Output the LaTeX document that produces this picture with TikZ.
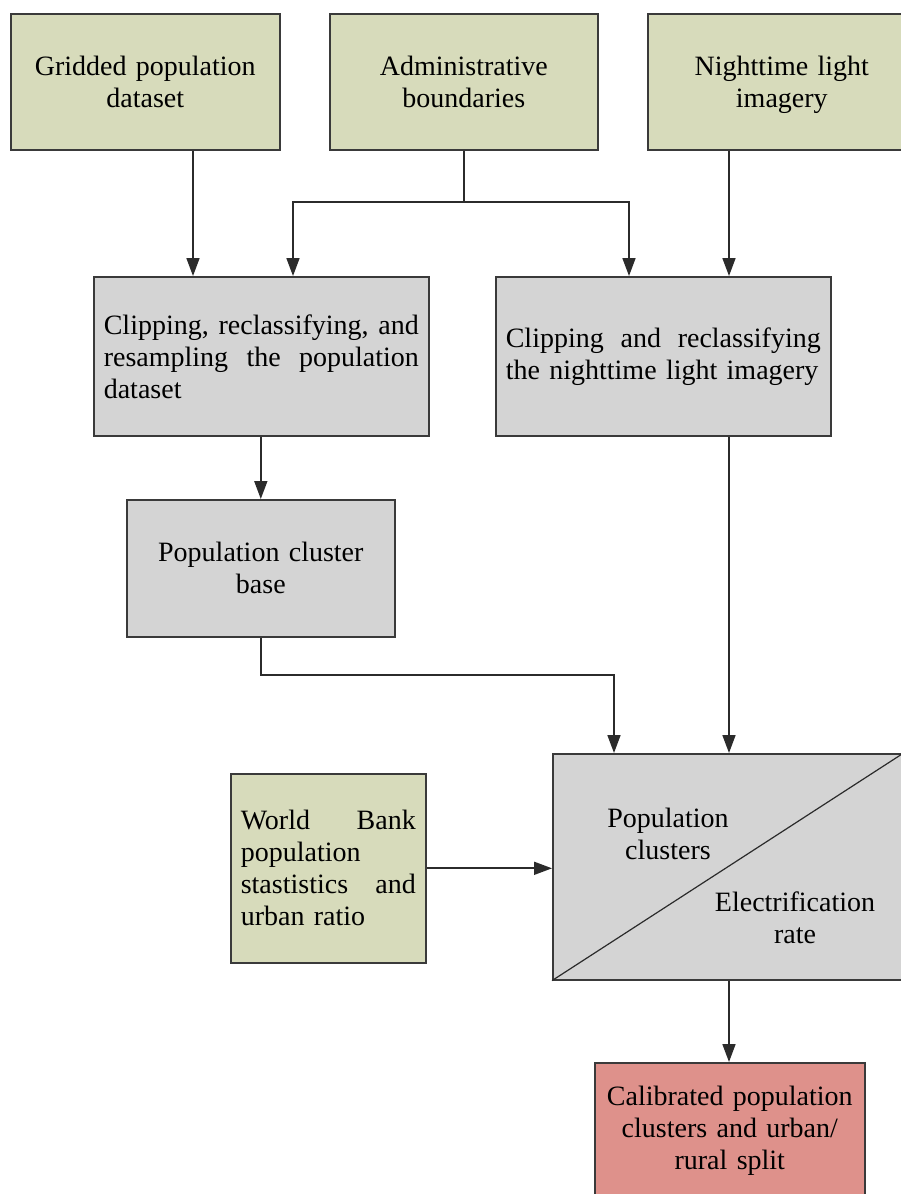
\documentclass[tikz,border=0pt]{standalone}
\usepackage{fontspec}
\setmainfont{Liberation Serif}
\usetikzlibrary{arrows.meta,calc}
\definecolor{boxgreen}{HTML}{D7DBBB}
\definecolor{boxgray}{HTML}{D4D4D4}
\definecolor{boxred}{HTML}{DE918B}
\definecolor{edgecol}{HTML}{3A3A3A}
\definecolor{linecol}{HTML}{2B2B2B}
\begin{document}
\begin{tikzpicture}[x=1pt,y=-1pt,
  box/.style={draw=edgecol, line width=1.6pt, inner sep=0pt, anchor=north west,
    font=\fontsize{28}{32}\selectfont},
  greenbox/.style={box, fill=boxgreen},
  graybox/.style={box, fill=boxgray},
  redbox/.style={box, fill=boxred},
  lbl/.style={inner sep=0pt, align=center, font=\fontsize{28}{32}\selectfont},
  conn/.style={draw=linecol, line width=1.7pt},
  arr/.style={conn, -{Triangle[length=18pt,width=13pt]}}
]
\useasboundingbox (0,0) rectangle (901,1194);
\clip (0,0) rectangle (901,1194);
\fill[white] (0,0) rectangle (901,1194);

% top row
\node[greenbox, minimum width=269pt, minimum height=136pt, text width=249pt, align=center] (g) at (10,13) {Gridded population\\dataset};
\node[greenbox, minimum width=268pt, minimum height=136pt, text width=248pt, align=center] (a) at (329,13) {Administrative\\boundaries};
\node[greenbox, minimum width=268pt, minimum height=136pt, text width=248pt, align=center] (n) at (647,13) {Nighttime light\\\smash{imagery}};

% processing
\node[graybox, minimum width=335pt, minimum height=159pt, text width=315pt, align=left] (c1) at (93,276) {Clipping,\hfill reclassifying,\hfill and\\resampling\hfill the\hfill population\\dataset};
\node[graybox, minimum width=335pt, minimum height=159pt, text width=315pt, align=left] (c2) at (495,276) {Clipping\hfill and\hfill reclassifying\\the nighttime light imagery};

\node[graybox, minimum width=268pt, minimum height=137pt, text width=248pt, align=center] (pb) at (126,499) {Population cluster\\base};

\node[greenbox, minimum width=195pt, minimum height=189pt, text width=175pt, align=left] (wb) at (230,773) {World\hfill Bank\\population\\stastistics\hfill and\\urban ratio};

\node[graybox, minimum width=350pt, minimum height=226pt] (pc) at (552,753) {};
\draw[draw=linecol, line width=1.2pt] (pc.south west) -- (pc.north east);
\node[lbl] (pct) at (668,834) {Population\\clusters};
\node[lbl] (pce) at (795,918) {Electrification\\rate};

\node[redbox, minimum width=270pt, minimum height=136pt, text width=250pt, align=center] (cal) at (594,1062) {Calibrated population\\clusters and urban/\\rural split};

% helper coordinates
\coordinate (xA) at (193,0);
\coordinate (xB) at (293,0);
\coordinate (xC) at (629,0);
\coordinate (xD) at (729,0);
\coordinate (xE) at (614,0);
\coordinate (yJ) at (0,202);
\coordinate (yK) at (0,675);

% connectors
\draw[arr] (g.south -| xA) -- (c1.north -| xA);
\draw[conn] (a.south) -- (a.south |- yJ);
\draw[arr] (a.south |- yJ) -| (c1.north -| xB);
\draw[arr] (a.south |- yJ) -| (c2.north -| xC);
\draw[arr] (n.south -| xD) -- (c2.north -| xD);
\draw[arr] (c1.south -| pb.north) -- (pb.north);
\draw[arr] (pb.south) -- (pb.south |- yK) -| (pc.north -| xE);
\draw[arr] (c2.south -| xD) -- (pc.north -| xD);
\draw[arr] (wb.east) -- (wb.east -| pc.west);
\draw[arr] (pc.south -| xD) -- (cal.north -| xD);
\end{tikzpicture}
\end{document}
